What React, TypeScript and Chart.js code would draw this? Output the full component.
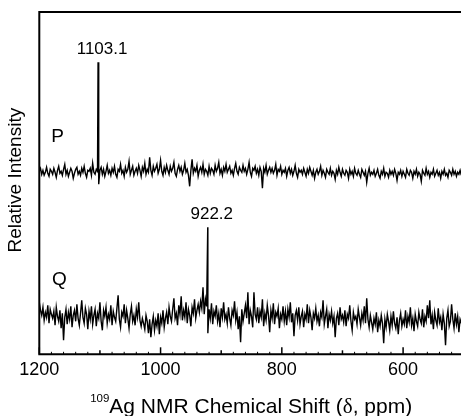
import React, { useEffect, useRef } from 'react';
import { Chart, registerables } from 'chart.js';

Chart.register(...registerables);

// ---- data ----
const SHIFT_START = 1200; // ppm, first sample of the acquisition grid
const SHIFT_STEP = 2; // ppm between samples
const X_MIN = 504.5;
const X_MAX = 1200;
const Y_MAX = 342.3;
const X_TICKS = [1200, 1000, 800, 600];
const X_MINOR_TICKS = [1100, 900, 700];

const PEAK_SHIFTS = [1103.1, 922.2];
const PEAK_HEIGHTS = [292, 127];
const PEAK_LABELS = ['1103.1', '922.2'];

const TRACE_NAMES = ['P', 'Q'];
const TRACE_LABEL_SHIFTS = [1170, 1167];
const TRACE_LABEL_LEVELS = [212.3, 69.3];

const P_INTENSITY = [
  183, 186, 180, 184, 179, 182, 187, 181, 178, 185, 183, 180,
  186, 182, 177, 184, 188, 181, 183, 179, 185, 190, 180, 184,
  178, 182, 186, 183, 176, 181, 185, 187, 180, 183, 179, 186,
  182, 188, 181, 177, 184, 183, 186, 179, 191, 182, 180, 185,
  183, 170, 184, 187, 180, 185, 178, 183, 189, 181, 184, 179,
  186, 182, 188, 180, 177, 185, 183, 190, 181, 184, 178, 187,
  182, 185, 193, 180, 184, 188, 179, 183, 186, 181, 189, 184,
  178, 187, 183, 191, 180, 185, 182, 197, 184, 179, 188, 183,
  186, 190, 181, 185, 194, 183, 179, 187, 182, 189, 184, 180,
  188, 183, 186, 192, 181, 178, 185, 189, 183, 187, 180, 184,
  191, 182, 185, 179, 168, 184, 195, 181, 186, 183, 189, 178,
  184, 187, 182, 190, 180, 185, 183, 179, 188, 181, 186, 184,
  180, 189, 183, 186, 192, 181, 185, 179, 187, 183, 190, 182,
  185, 188, 181, 184, 179, 186, 191, 183, 180, 187, 184, 182,
  189, 183, 186, 180, 185, 192, 182, 178, 186, 184, 188, 181,
  185, 179, 187, 183, 166, 186, 182, 189, 180, 184, 187, 182,
  186, 181, 184, 190, 179, 185, 183, 188, 180, 184, 182, 186,
  178, 184, 187, 181, 185, 179, 183, 189, 181, 177, 185, 182,
  184, 180, 186, 182, 178, 185, 181, 187, 183, 179, 184, 176,
  182, 185, 180, 183, 188, 179, 184, 181, 177, 185, 182, 180,
  186, 179, 183, 181, 175, 184, 180, 187, 182, 178, 185, 181,
  179, 184, 182, 176, 185, 180, 183, 178, 186, 181, 179, 184,
  180, 177, 185, 182, 179, 183, 172, 181, 186, 179, 182, 180,
  184, 178, 181, 185, 179, 176, 183, 180, 186, 178, 182, 181,
  177, 184, 180, 183, 179, 185, 181, 174, 182, 180, 184, 178,
  183, 180, 177, 185, 181, 179, 184, 182, 176, 183, 180, 185,
  178, 182, 180, 173, 184, 181, 179, 186, 180, 183, 177, 182,
  180, 185, 178, 181, 184, 179, 182, 176, 183, 180, 185, 179,
  181, 177, 184, 182, 179, 185, 180, 183, 178, 182, 180, 184,
  179,
];

const Q_INTENSITY = [
  52, 44, 39, 47, 34, 42, 37, 49, 31, 45, 40, 36,
  43, 29, 47, 38, 33, 44, 26, 41, 14, 37, 45, 30,
  42, 35, 48, 27, 39, 44, 33, 50, 36, 29, 41, 54,
  37, 31, 46, 40, 25, 43, 35, 48, 30, 39, 45, 28,
  41, 36, 52, 33, 24, 44, 38, 47, 31, 40, 35, 49,
  29, 43, 37, 33, 46, 59, 35, 27, 42, 38, 50, 31,
  44, 36, 26, 40, 48, 33, 39, 29, 45, 37, 52, 34,
  28, 36, 31, 25, 39, 33, 21, 35, 17, 30, 38, 24,
  34, 28, 41, 20, 37, 31, 44, 27, 36, 42, 30, 47,
  38, 33, 45, 56, 36, 41, 29, 49, 40, 58, 34, 44,
  37, 52, 31, 45, 39, 28, 47, 41, 55, 36, 44, 50,
  42, 53, 46, 67, 40, 55, 48, 21, 45, 36, 51, 30,
  43, 38, 49, 33, 41, 27, 46, 37, 52, 35, 40, 31,
  47, 36, 29, 44, 39, 53, 34, 42, 25, 38, 12, 45,
  33, 41, 49, 36, 62, 30, 44, 38, 27, 62, 40, 35,
  47, 31, 43, 37, 55, 28, 41, 34, 49, 39, 22, 44,
  36, 51, 30, 42, 38, 46, 26, 40, 35, 48, 33, 43,
  29, 45, 37, 52, 32, 41, 18, 39, 44, 34, 47, 30,
  38, 43, 27, 40, 35, 50, 31, 44, 37, 24, 41, 36,
  46, 33, 39, 28, 42, 37, 54, 30, 38, 45, 26, 40,
  34, 43, 31, 38, 17, 36, 41, 29, 47, 35, 39, 32,
  44, 28, 40, 36, 49, 33, 24, 42, 35, 38, 30, 45,
  37, 29, 41, 34, 48, 31, 56, 35, 27, 39, 32, 25,
  36, 30, 42, 22, 34, 28, 39, 31, 11, 35, 27, 40,
  33, 24, 38, 29, 43, 31, 26, 37, 20, 34, 41, 28,
  35, 30, 44, 26, 38, 32, 47, 29, 36, 23, 40, 33,
  28, 42, 35, 31, 45, 27, 38, 33, 49, 36, 54, 30,
  39, 25, 42, 34, 29, 46, 32, 37, 24, 40, 31, 9,
  36, 44, 28, 33, 50, 35, 26, 41, 30, 38, 22, 35,
  31,
];

const SANS = '"Liberation Sans", Arial, Helvetica, sans-serif';
const SERIF = '"Liberation Serif", "Times New Roman", serif';

function buildSeries(values: number[], peakShift: number, peakHeight: number) {
  const pts = values.map((v, i) => ({ x: SHIFT_START - i * SHIFT_STEP, y: v }));
  pts.push({ x: peakShift, y: peakHeight });
  pts.sort((a, b) => b.x - a.x);
  return pts;
}

const decorPlugin = {
  id: 'decor',
  afterDatasetsDraw(chart: any) {
    const { ctx, chartArea } = chart;
    const { left, top, bottom } = chartArea;
    const right = chart.width;
    const xs = chart.scales.x;
    ctx.save();
    ctx.strokeStyle = '#000';
    ctx.lineWidth = 2;
    ctx.lineJoin = 'miter';
    ctx.beginPath();
    ctx.moveTo(right + 2, top);
    ctx.lineTo(left, top);
    ctx.lineTo(left, bottom);
    ctx.lineTo(right + 2, bottom);
    ctx.stroke();

    // tick marks (inward)
    ctx.lineWidth = 1.5;
    X_TICKS.forEach((v) => {
      const px = xs.getPixelForValue(v);
      ctx.beginPath();
      ctx.moveTo(px, bottom);
      ctx.lineTo(px, bottom - 7);
      ctx.stroke();
    });
    X_MINOR_TICKS.forEach((v) => {
      const px = xs.getPixelForValue(v);
      ctx.beginPath();
      ctx.moveTo(px, bottom);
      ctx.lineTo(px, bottom - 4);
      ctx.stroke();
    });
    ctx.lineWidth = 1;
    for (let v = 1180; v > X_MIN; v -= 20) {
      if (v % 100 === 0) continue;
      const px = xs.getPixelForValue(v);
      ctx.beginPath();
      ctx.moveTo(px, bottom);
      ctx.lineTo(px, bottom - 2.5);
      ctx.stroke();
    }
    ctx.restore();
  },
  afterDraw(chart: any) {
    const { ctx, chartArea } = chart;
    const xs = chart.scales.x;
    const ys = chart.scales.y;
    ctx.save();
    ctx.fillStyle = '#000';

    // peak labels
    ctx.font = `17px ${SANS}`;
    ctx.textAlign = 'center';
    ctx.textBaseline = 'alphabetic';
    PEAK_SHIFTS.forEach((s, i) => {
      const px = xs.getPixelForValue(s) + 4;
      const py = ys.getPixelForValue(PEAK_HEIGHTS[i]) - 8.5;
      ctx.fillText(PEAK_LABELS[i], px, py);
    });

    // trace names
    ctx.font = `19px ${SANS}`;
    TRACE_NAMES.forEach((n, i) => {
      ctx.fillText(n, xs.getPixelForValue(TRACE_LABEL_SHIFTS[i]), ys.getPixelForValue(TRACE_LABEL_LEVELS[i]));
    });

    // y title
    ctx.save();
    ctx.translate(21, (chartArea.top + chartArea.bottom) / 2 - 3);
    ctx.rotate(-Math.PI / 2);
    ctx.font = `19px ${SANS}`;
    ctx.textAlign = 'center';
    ctx.fillText('Relative Intensity', 0, 0);
    ctx.restore();

    // x title with superscript
    const supFont = `11.5px ${SANS}`;
    const mainFont = `21px ${SANS}`;
    const deltaFont = `21px ${SERIF}`;
    const parts: [string, string][] = [
      ['Ag NMR Chemical Shift (', mainFont],
      ['\u03B4', deltaFont],
      [', ppm)', mainFont],
    ];
    ctx.font = supFont;
    const supW = ctx.measureText('109').width;
    let total = supW;
    parts.forEach(([t, f]) => {
      ctx.font = f;
      total += ctx.measureText(t).width;
    });
    const cx = (chartArea.left + chart.width) / 2 + 1;
    let x = cx - total / 2;
    const baseY = 413;
    ctx.textAlign = 'left';
    ctx.font = supFont;
    ctx.fillText('109', x, baseY - 11);
    x += supW;
    parts.forEach(([t, f]) => {
      ctx.font = f;
      ctx.fillText(t, x, baseY);
      x += ctx.measureText(t).width;
    });
    ctx.restore();
  },
};

export default function App() {
  const canvasRef = useRef<HTMLCanvasElement | null>(null);

  useEffect(() => {
    const canvas = canvasRef.current;
    if (!canvas) return;
    const series = [P_INTENSITY, Q_INTENSITY];
    const chart = new Chart(canvas, {
      type: 'line',
      data: {
        datasets: series.map((vals, i) => ({
          label: TRACE_NAMES[i],
          data: buildSeries(vals, PEAK_SHIFTS[i], PEAK_HEIGHTS[i]),
          borderColor: '#000',
          borderWidth: 1.4,
          pointRadius: 0,
          fill: false,
          tension: 0,
        })),
      },
      options: {
        animation: false,
        responsive: false,
        events: [],
        layout: { padding: { left: 39.3, top: 12, right: 0, bottom: 0 } },
        plugins: { legend: { display: false }, tooltip: { enabled: false } },
        scales: {
          x: {
            type: 'linear',
            reverse: true,
            min: X_MIN,
            max: X_MAX,
            afterBuildTicks: (s: any) => {
              s.ticks = X_TICKS.map((v) => ({ value: v }));
            },
            afterFit: (s: any) => {
              s.height = 416 - 354.3;
            },
            grid: { display: false, drawTicks: false },
            border: { display: false },
            ticks: {
              color: '#000',
              font: { family: SANS, size: 18 },
              padding: 5,
              maxRotation: 0,
              autoSkip: false,
              callback: (v: any) => String(v),
            },
          },
          y: { type: 'linear', display: false, min: 0, max: Y_MAX },
        },
      },
      plugins: [decorPlugin],
    } as any);
    return () => chart.destroy();
  }, []);

  return (
    <div style={{ position: 'fixed', left: 0, top: 0, width: 461, height: 416, background: '#fff' }}>
      <canvas ref={canvasRef} width={461} height={416} style={{ display: 'block' }} />
    </div>
  );
}
